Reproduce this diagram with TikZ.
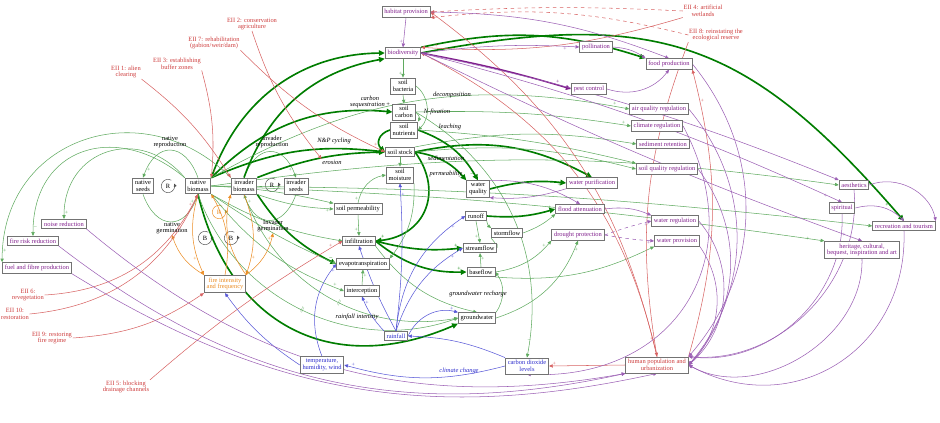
\documentclass[tikz,border=0pt]{standalone}
\usepackage{fontspec}
\setmainfont{Liberation Serif}
\usetikzlibrary{arrows.meta,positioning,backgrounds,calc}
\definecolor{svcpurple}{RGB}{128,30,140}
\definecolor{linkpurple}{RGB}{155,95,180}
\definecolor{flowgreen}{RGB}{95,170,95}
\definecolor{darkgreen}{RGB}{0,125,0}
\definecolor{eiired}{RGB}{205,60,60}
\definecolor{climblue}{RGB}{45,45,205}
\definecolor{fireorange}{RGB}{235,140,35}
\newcommand{\cldfont}{\fontsize{5.5}{5.8}\selectfont}

\begin{document}
\begin{tikzpicture}[x=0.03cm, y=0.03cm,
    var/.style={rectangle, draw=black!55, line width=0.7pt, fill=white, inner xsep=2pt, inner ysep=2pt, align=center, font=\cldfont},
    svc/.style={var, text=svcpurple},
    clim/.style={var, text=climblue},
    pressure/.style={var, text=eiired},
    firebox/.style={var, text=fireorange},
    eii/.style={align=center, font=\cldfont, text=eiired, inner sep=0.5pt},
    flab/.style={align=center, font=\cldfont\itshape, inner sep=0.5pt},
    plab/.style={align=center, font=\cldfont, inner sep=0.5pt},
    pol/.style={font=\fontsize{5}{5}\selectfont, inner sep=0.4pt},
    delay/.style={sloped, font=\cldfont, inner sep=0pt, text=flowgreen},
    loopsym/.style={font=\cldfont, inner sep=0.5pt},
    looparc/.style={-{Triangle[length=2.5pt,width=2.5pt]}, line width=0.4pt, black!70},
    gthin/.style={-{Triangle[length=3.2pt,width=2.8pt]}, line width=0.45pt, flowgreen},
    gthick/.style={-{Triangle[length=5pt,width=4.5pt]}, line width=1.4pt, darkgreen},
    plink/.style={-{Triangle[length=3.2pt,width=2.8pt]}, line width=0.45pt, linkpurple},
    pthick/.style={-{Triangle[length=4.5pt,width=4pt]}, line width=1.2pt, svcpurple},
    rlink/.style={-{Triangle[length=3.2pt,width=2.8pt]}, line width=0.45pt, eiired!80},
    blink/.style={-{Triangle[length=3.2pt,width=2.8pt]}, line width=0.45pt, climblue!80},
    olink/.style={-{Triangle[length=3.2pt,width=2.8pt]}, line width=0.45pt, fireorange}
]
\useasboundingbox (0,0) rectangle (940,-423);

% ============ vegetation ============
\node[var] (nseeds) at (143,-186) {native\\seeds};
\node[var] (nbio) at (198,-186) {native\\biomass};
\node[var] (ibio) at (244,-186) {invader\\biomass};
\node[var] (iseeds) at (296,-186) {invader\\seeds};
\node[firebox] (fire) at (225,-284) {fire intensity\\and frequency};

\node[plab] (lab-nrep) at (170,-142) {native\\reproduction};
\node[plab] (lab-ngerm) at (172,-228) {native\\germination};
\node[plab] (lab-irep) at (272,-142) {invader\\reproduction};
\node[plab] (lab-igerm) at (273,-226) {Invader\\germination};

\node[loopsym] (loop-r1) at (168,-186) {R};
\node[loopsym] (loop-r2) at (272,-185) {R};
\node[loopsym] (loop-b1) at (205,-238) {B};
\node[loopsym] (loop-b2) at (231,-238) {B};
\node[loopsym, text=fireorange] (loop-r3) at (219,-212) {R};

% ============ soil ============
\node[svc] (habitat) at (406,-12) {habitat provision};
\node[svc] (biodiv) at (403,-53) {biodiversity};
\node[var] (bacteria) at (403,-86) {soil\\bacteria};
\node[var] (scarbon) at (404,-112) {soil\\carbon};
\node[var] (snutr) at (404,-130) {soil\\nutrients};
\node[var] (sstock) at (400,-152) {soil stock};
\node[var] (smoist) at (400,-175) {soil\\moisture};
\node[var] (sperm) at (358,-209) {soil permeability};

\node[flab] (lab-cseq) at (370,-102) {carbon\\sequestration \upshape+};
\node[flab] (lab-decomp) at (452,-95) {decomposition};
\node[flab] (lab-nfix) at (437,-112) {N-fixation};
\node[flab] (lab-leach) at (450,-127) {leaching};
\node[flab] (lab-npc) at (334,-141) {N\&P cycling};
\node[flab] (lab-eros) at (332,-162) {erosion};
\node[flab] (lab-sedim) at (446,-158) {sedimentation};
\node[flab] (lab-perm) at (446,-174) {permeability};

% ============ water ============
\node[var] (infil) at (359,-241) {infiltration};
\node[var] (evapo) at (363,-264) {evapotranspiration};
\node[var] (interc) at (362,-291) {interception};
\node[var] (wqual) at (478,-189) {water\\quality};
\node[var] (runoff) at (476,-216) {runoff};
\node[var] (storm) at (507,-233) {stormflow};
\node[var] (stream) at (480,-248) {streamflow};
\node[var] (baseflow) at (481,-272) {baseflow};
\node[var] (groundw) at (477,-318) {groundwater};

\node[flab] (lab-gwr) at (478,-294) {groundwater recharge};
\node[flab] (lab-rint) at (357,-317) {rainfall intensity};
\node[flab, text=climblue] (lab-cc) at (459,-371) {climate change};

% ============ climate and people ============
\node[clim] (rain) at (396,-336) {rainfall};
\node[clim] (temp) at (322,-365) {temperature,\\humidity, wind};
\node[clim] (co2) at (527,-366) {carbon dioxide\\levels};
\node[pressure] (human) at (657,-365) {human population and\\urbanization};

% ============ services ============
\node[svc] (pollin) at (596,-47) {pollination};
\node[svc] (food) at (669,-64) {food production};
\node[svc] (pest) at (589,-89) {pest control};
\node[svc] (airq) at (659,-109) {air quality regulation};
\node[svc] (climreg) at (657,-126) {climate regulation};
\node[svc] (sediment) at (663,-144) {sediment retention};
\node[svc] (soilq) at (667,-169) {soil quality regulation};
\node[svc] (wpurif) at (592,-183) {water purification};
\node[svc] (flood) at (580,-209) {flood attenuation};
\node[svc] (wreg) at (675,-221) {water regulation};
\node[svc] (drought) at (578,-235) {drought protection};
\node[svc] (wprov) at (677,-241) {water provision};
\node[svc] (aesth) at (854,-185) {aesthetics};
\node[svc] (spirit) at (842,-208) {spiritual};
\node[svc] (recr) at (904,-226) {recreation and tourism};
\node[svc] (herit) at (862,-250) {heritage, cultural,\\bequest, inspiration and art};
\node[svc] (noise) at (64,-224) {noise reduction};
\node[svc] (firerisk) at (33,-241) {fire risk reduction};
\node[svc] (fuel) at (37,-268) {fuel and fibre production};

% ============ interventions ============
\node[eii] (eii1) at (126,-72) {EII 1: alien\\clearing};
\node[eii] (eii3) at (177,-64) {EII 3: establishing\\buffer zones};
\node[eii] (eii7) at (214,-43) {EII 7: rehabilitation\\(gabion/weir/dam)};
\node[eii] (eii2) at (252,-24) {EII 2: conservation\\agriculture};
\node[eii] (eii4) at (703,-11) {EII 4: artificial\\wetlands};
\node[eii] (eii8) at (716,-35) {EII 8: reinstating the\\ecological reserve};
\node[eii] (eii6) at (28,-295) {EII 6:\\revegetation};
\node[eii] (eii10) at (15,-314) {EII 10:\\restoration};
\node[eii] (eii9) at (52,-338) {EII 9: restoring\\fire regime};
\node[eii] (eii5) at (126,-387) {EII 5: blocking\\drainage channels};

\begin{scope}[on background layer]
% loops
\draw[looparc] (loop-r1) ++(60:0.2cm) arc[start angle=60, end angle=380, radius=0.2cm];
\draw[looparc] (loop-r2) ++(60:0.2cm) arc[start angle=60, end angle=380, radius=0.2cm];
\draw[looparc] (loop-b1) ++(60:0.2cm) arc[start angle=60, end angle=380, radius=0.2cm];
\draw[looparc] (loop-b2) ++(60:0.2cm) arc[start angle=60, end angle=380, radius=0.2cm];
\draw[looparc, fireorange] (loop-r3) ++(60:0.2cm) arc[start angle=60, end angle=380, radius=0.2cm];

% reproduction and germination
\draw[gthin] (nbio.north) to[bend right=70, looseness=1.8] node[pol,pos=0.92,right] {+} (nseeds.north);
\draw[gthin] (nseeds.south) to[bend right=70, looseness=1.8] node[pol,pos=0.92,left] {+} (nbio.south);
\draw[gthin] (ibio.north) to[bend left=70, looseness=1.8] node[pol,pos=0.92,left] {+} (iseeds.north);
\draw[gthin] (iseeds.south) to[bend left=70, looseness=1.8] node[pol,pos=0.92,right] {+} (ibio.south);

% biomass to soil and biodiversity
\draw[gthick] (nbio.north east) to[bend left=35] (biodiv.west);
\draw[gthick] (ibio.north) to[bend left=30] (biodiv.south west);
\draw[gthick] (nbio.north east) to[bend left=15] (sstock.west);
\draw[gthick] (ibio.north east) to[bend left=10] node[pol,pos=0.95,below] {--} (sstock.west);
\draw[gthick] (nbio.north east) to[bend left=25] (scarbon.west);
\draw[gthick] (snutr.west) to[bend right=60, looseness=1.4] (sstock.west);
\draw[gthick] (sstock.east) to[bend left=60, looseness=1.3] node[pol,pos=0.95,above] {+} (infil.east);
\draw[gthick] (ibio.south east) to[bend right=15] node[pol,pos=0.95,above] {--} (evapo.west);
\draw[gthick] (nbio.south) to[bend right=50, looseness=1.2] (groundw.south west);
\draw[gthick] (infil.east) to[bend right=10] node[pol,pos=0.93,above] {+} (stream.west);
\draw[gthick] (infil.east) to[bend right=20] node[pol,pos=0.93,above] {+} (baseflow.west);
\draw[gthick] (sstock.east) to[bend left=20] (wqual.north west);
\draw[gthick] (snutr.east) to[bend left=20] node[pol,pos=0.93,left] {--} (wqual.north);
\draw[gthick] (sstock.east) to[bend left=20] (wpurif.north);
\draw[gthick] (wqual.east) to[bend left=10] node[pol,pos=0.92,below] {+} (wpurif.west);
\draw[gthick] (runoff.east) to[bend right=10] node[pol,pos=0.92,above] {+} (flood.west);
\draw[gthick] (biodiv.east) to[bend left=30, looseness=1.2] node[pol,pos=0.97,left] {+} (recr.north);
\draw[gthick] (biodiv.north east) to[bend left=15] (food.north west);

% soil and water processes
\draw[gthin] (biodiv.south) -- node[pol,pos=0.8,left] {+} (bacteria.north);
\draw[gthin] (bacteria.south) -- (scarbon.north);
\draw[gthin] (bacteria.east) to[bend left=50] (snutr.east);
\draw[gthin] (scarbon.east) to[bend left=40] (snutr.north east);
\draw[gthin] (sstock.south) -- (smoist.north);
\draw[gthin] (ibio.south east) to[bend right=8] node[pol,pos=0.93,below] {+} (sperm.west);
\draw[gthin] (nbio.east) to[bend left=5] (sperm.north west);
\draw[gthin] (sperm.south) -- node[pol,pos=0.7,left] {+} (infil.north);
\draw[gthin] (sperm.north) to[bend left=35] node[pol,pos=0.1,left] {+} (smoist.west);
\draw[gthin] (smoist.south east) to[bend left=20] (evapo.north east);
\draw[gthin] (nbio.south east) to[bend right=10] (infil.west);
\draw[gthin] (nbio.south east) to[bend right=15] node[pol,pos=0.95,above] {+} (interc.west);
\draw[gthin] (nbio.south east) to[bend right=5] (evapo.west);
\draw[gthin] (interc.north) -- node[pol,pos=0.6,right] {+} (evapo.south);
\draw[gthin] (runoff.south east) to[bend right=20] (storm.north west);
\draw[gthin] (runoff.south) -- node[pol,pos=0.7,left] {+} (stream.north);
\draw[gthin] (storm.south west) to[bend left=10] (stream.east);
\draw[gthin] (baseflow.north) -- node[pol,pos=0.6,right] {+} (stream.south);
\draw[gthin] (infil.south east) to[bend right=20] (groundw.north);
\draw[gthin] (groundw.north east) to[bend right=35] (baseflow.east);
\draw[gthin] (baseflow.east) to[bend right=20] node[pol,pos=0.9,left] {+} (drought.south west);
\draw[gthin] (groundw.east) to[bend right=25] node[pol,pos=0.92,right] {+} (drought.south);
\draw[gthin] (baseflow.south east) to[bend right=15] (wprov.south west);
\draw[gthin] (storm.east) to[bend right=10] (flood.south west);
\draw[gthin] (sstock.east) to[bend left=10] (soilq.west);
\draw[gthin] (sstock.north east) to[bend left=10] (sediment.west);
\draw[gthin] (snutr.east) to[bend left=5] (soilq.north west);
\draw[gthin] (nbio.north east) to[bend left=20] node[pol,pos=0.97,above] {+} (airq.west);
\draw[gthin] (scarbon.east) to[bend left=5] node[pol,pos=0.97,above] {+} (climreg.west);
\draw[gthin] (nbio.east) to[bend left=8] (aesth.west);
\draw[gthin] (nbio.east) to[bend left=3] (recr.west);
\draw[gthin] (nbio.east) to[bend left=3] node[pol,pos=0.98,left] {+} (herit.north west);
\draw[gthin] (scarbon.east) to[bend left=35] node[pol,pos=0.95,above] {--} (co2.north);
\draw[gthin] (nbio.north west) to[out=130, in=90, looseness=1.4] node[pol,pos=0.97,right] {+} (noise.north);
\draw[gthin] (nbio.north west) to[out=140, in=90, looseness=1.4] node[pol,pos=0.97,right] {--} (firerisk.north);
\draw[gthin] (ibio.north west) to[out=135, in=90, looseness=1.3] node[pol,pos=0.97,right] {+} (fuel.north west);
\draw[gthin] (nbio.south) to[bend right=45] node[delay,pos=0.5] {||} (groundw.west);
\draw[gthin] (ibio.south) to[bend right=40] node[delay,pos=0.55] {||} (groundw.west);

% fire
\draw[olink] (nbio.south) to[bend right=20] node[pol,pos=0.8,left] {+} (fire.north west);
\draw[olink] (fire.north) to[bend right=20] node[pol,pos=0.25,right] {--} (nbio.south east);
\draw[olink] (ibio.south) to[bend left=20] node[pol,pos=0.8,right] {+} (fire.north east);
\draw[olink] (fire.north east) to[bend left=25] (ibio.south west);
\draw[olink] (fire.north east) to[bend right=20] node[pol,pos=0.9,left] {+} (lab-igerm.south);
\draw[olink] (fire.north west) to[bend left=20] (lab-ngerm.south);

% interventions
\draw[rlink] (eii1.south east) to[bend left=10] node[pol,pos=0.95,left] {--} (ibio.north west);
\draw[rlink] (eii3.south east) to[bend left=10] node[pol,pos=0.95,right] {+} (nbio.north east);
\draw[rlink] (eii7.south east) to[bend right=10] node[pol,pos=0.95,above] {+} (sstock.west);
\draw[rlink] (eii2.south) to[bend right=10] (lab-eros.north west);
\draw[rlink, dashed] (eii4.west) to[bend right=3] (habitat.east);
\draw[rlink, dashed] (eii8.west) to[bend right=10] (habitat.south east);
\draw[rlink] (eii4.south west) to[bend left=10] node[pol,pos=0.95,above] {+} (biodiv.north east);
\draw[rlink] (eii6.east) to[bend right=30] (nbio.south);
\draw[rlink] (eii10.east) to[bend right=30] node[pol,pos=0.95,left] {+} (nbio.south);
\draw[rlink] (eii9.east) to[bend right=15] (fire.south west);
\draw[rlink] (eii5.north east) to[bend left=5] node[pol,pos=0.95,above] {+} (infil.west);
\draw[rlink] (human.west) -- node[pol,pos=0.93,above] {+} (co2.east);
\draw[rlink] (human.north) to[bend right=25] node[pol,pos=0.97,below] {--} (biodiv.east);
\draw[rlink] (human.north) to[bend right=20] (habitat.east);
\draw[rlink] (human.north east) to[bend right=15] node[pol,pos=0.9,right] {+} (food.south east);
\draw[rlink] (eii8.south west) to[bend right=15] node[pol,pos=0.95,left] {+} (human.north);

% climate
\draw[blink] (rain.north west) to[bend left=10] node[pol,pos=0.85,right] {+} (interc.south);
\draw[blink] (rain.north) to[bend left=5] (infil.south);
\draw[blink] (rain.north) to[bend left=25] node[pol,pos=0.9,below] {+} (runoff.west);
\draw[blink] (rain.north) to[bend left=20] node[pol,pos=0.9,below] {+} (stream.west);
\draw[blink] (rain.north) to[bend right=5] node[pol,pos=0.93,right] {+} (smoist.south);
\draw[blink] (rain.east) to[bend left=40] node[pol,pos=0.9,above] {+} (groundw.north west);
\draw[blink] (temp.north) to[bend left=30] node[pol,pos=0.95,below] {+} (evapo.west);
\draw[blink] (temp.west) to[bend left=10] (fire.south);
\draw[blink] (co2.west) to[bend left=15] node[pol,pos=0.95,above] {+} (temp.east);
\draw[blink] (co2.north west) to[bend right=10] node[pol,pos=0.92,below] {--} (rain.east);

% services
\draw[plink] (habitat.south) -- node[pol,pos=0.8,left] {+} (biodiv.north);
\draw[plink] (biodiv.east) to[bend left=5] node[pol,pos=0.92,below] {+} (pollin.west);
\draw[pthick] (biodiv.east) to[bend left=3] node[pol,pos=0.92,above] {+} (pest.west);
\draw[plink] (pollin.east) to[bend left=15] (food.north west);
\draw[plink] (pest.east) to[bend right=35] (food.south);
\draw[plink] (habitat.east) to[bend left=10] (food.north);
\draw[plink] (biodiv.east) to[bend left=5] (aesth.north west);
\draw[plink] (biodiv.east) to[bend left=5] node[pol,pos=0.97,left] {+} (spirit.north);
\draw[plink] (biodiv.east) to[bend right=3] node[pol,pos=0.97,left] {+} (herit.north);
\draw[plink] (aesth.east) to[bend left=50] (recr.north east);
\draw[plink] (spirit.east) to[bend left=30] (recr.north);
\draw[plink] (flood.east) to[bend left=15] (wreg.north west);
\draw[plink, dashed] (drought.east) to[bend left=3] node[pol,pos=0.9,below] {+} (wreg.west);
\draw[plink, dashed] (drought.east) to[bend right=3] node[pol,pos=0.9,below] {+} (wprov.west);
\draw[plink] (wpurif.south west) to[bend left=10] (wqual.south east);
\draw[plink] (wqual.north east) to[bend left=15] (flood.north);
\draw[plink] (climreg.east) to[bend left=60, looseness=1.3] (co2.south);
\draw[plink] (recr.south) to[bend left=60, looseness=1.2] (human.east);
\draw[plink] (herit.south) to[bend left=60] (human.east);
\draw[plink] (aesth.south) to[bend left=50] (human.north east);
\draw[plink] (spirit.south) to[bend left=50] (human.north east);
\draw[plink] (wprov.south east) to[bend left=40] (human.east);
\draw[plink] (wreg.east) to[bend left=45] (human.east);
\draw[plink] (food.east) to[bend left=40] (human.north east);
\draw[plink] (airq.east) to[bend left=40] (human.east);
\draw[plink] (soilq.east) to[bend left=40] (human.east);
\draw[plink] (noise.south east) to[bend right=25] (human.south west);
\draw[plink] (firerisk.south east) to[bend right=25] (human.south west);
\draw[plink] (fuel.south east) to[bend right=22] (human.south);
\end{scope}

\end{tikzpicture}
\end{document}
